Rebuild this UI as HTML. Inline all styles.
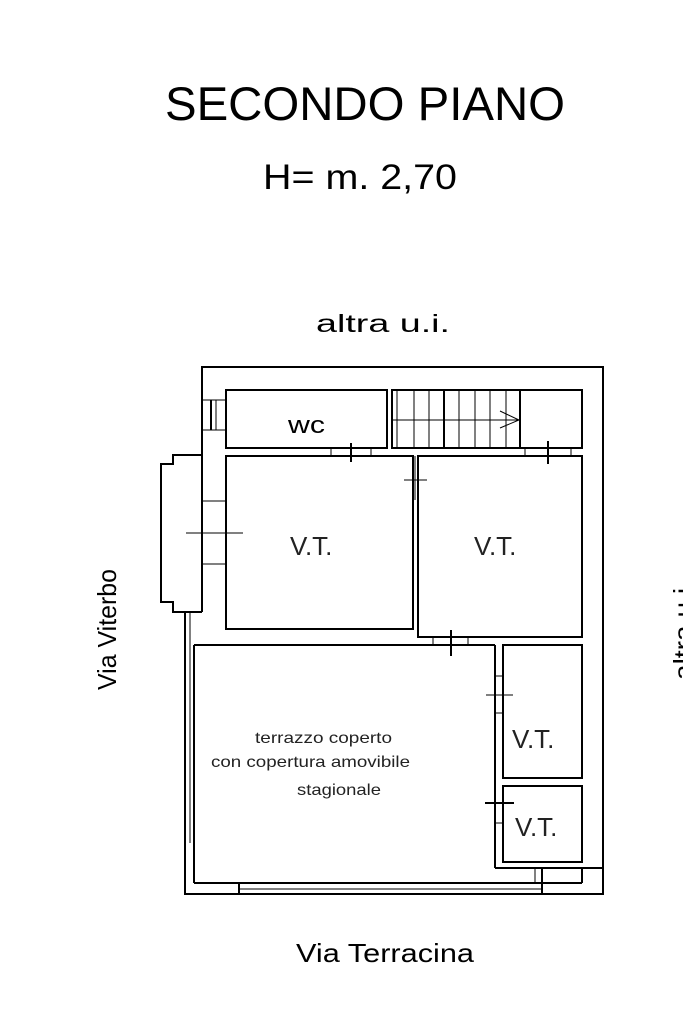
<!DOCTYPE html>
<html><head><style>html,body{margin:0;padding:0;background:#fff;}svg{display:block}</style></head>
<body>
<svg width="683" height="1023" viewBox="0 0 683 1023" xmlns="http://www.w3.org/2000/svg" font-family="Liberation Sans, Arial, sans-serif">
<rect width="683" height="1023" fill="#fff"/>
<text x="165" y="120" font-size="47" textLength="400" lengthAdjust="spacingAndGlyphs">SECONDO PIANO</text>
<text x="263" y="189" font-size="35" textLength="194" lengthAdjust="spacingAndGlyphs">H= m. 2,70</text>
<text x="316" y="332" font-size="25" textLength="134" lengthAdjust="spacingAndGlyphs">altra u.i.</text>
<text x="296" y="962" font-size="26" textLength="178" lengthAdjust="spacingAndGlyphs">Via Terracina</text>
<text transform="translate(116,690) rotate(-90)" font-size="26" textLength="121" lengthAdjust="spacingAndGlyphs">Via Viterbo</text>
<text transform="translate(692,680) rotate(-90)" font-size="26" textLength="100" lengthAdjust="spacingAndGlyphs">altra u.i.</text>
<g fill="none" stroke="#000" stroke-width="2">
<polyline points="202,455 202,367 603,367 603,894 185,894 185,612"/>
<polyline points="202,612 202,455"/>
<polyline points="202,455 173,455 173,464 161,464 161,602 173,602 173,612 202,612"/>
<line x1="190" y1="612" x2="190" y2="843" stroke-width="1"/>
<line x1="194" y1="645" x2="194" y2="883"/>
<rect x="226" y="390" width="161" height="58"/>
<rect x="392" y="390" width="190" height="58"/>
<line x1="444" y1="390" x2="444" y2="448"/>
<line x1="520" y1="390" x2="520" y2="448"/>
<rect x="226" y="456" width="187" height="173"/>
<rect x="418" y="456" width="164" height="181"/>
<line x1="194" y1="645" x2="495" y2="645"/>
<line x1="495" y1="645" x2="495" y2="868"/>
<line x1="495" y1="868" x2="603" y2="868"/>
<rect x="503" y="645" width="79" height="133"/>
<rect x="503" y="786" width="79" height="76"/>
<line x1="194" y1="883" x2="582" y2="883"/>
<line x1="582" y1="868" x2="582" y2="883"/>
<line x1="239" y1="884" x2="239" y2="894"/>
<line x1="542" y1="868" x2="542" y2="894"/>
</g>
<g fill="none" stroke="#000" stroke-width="1">
<line x1="397" y1="390" x2="397" y2="448"/><line x1="414" y1="390" x2="414" y2="448"/><line x1="429" y1="390" x2="429" y2="448"/>
<line x1="459" y1="390" x2="459" y2="448"/><line x1="475" y1="390" x2="475" y2="448"/><line x1="490" y1="390" x2="490" y2="448"/><line x1="506" y1="390" x2="506" y2="448"/>
<line x1="392" y1="420" x2="520" y2="420"/>
<polyline points="500,411 519,420 500,428"/>
<line x1="202" y1="400" x2="226" y2="400"/><line x1="202" y1="430" x2="226" y2="430"/>
<line x1="211" y1="400" x2="211" y2="430" stroke-width="2"/><line x1="216" y1="400" x2="216" y2="430"/>
<line x1="202" y1="501" x2="226" y2="501"/><line x1="202" y1="564" x2="226" y2="564"/>
<line x1="186" y1="533" x2="243" y2="533"/>
<line x1="331" y1="448" x2="331" y2="456"/><line x1="371" y1="448" x2="371" y2="456"/><line x1="351" y1="443" x2="351" y2="462" stroke-width="2"/>
<line x1="525" y1="448" x2="525" y2="456"/><line x1="571" y1="448" x2="571" y2="456"/><line x1="548" y1="441" x2="548" y2="464" stroke-width="2"/>
<line x1="415" y1="456" x2="415" y2="500"/><line x1="404" y1="480" x2="427" y2="480"/>
<line x1="433" y1="637" x2="433" y2="645"/><line x1="468" y1="637" x2="468" y2="645"/><line x1="451" y1="630" x2="451" y2="656" stroke-width="2"/>
<line x1="495" y1="676" x2="503" y2="676"/><line x1="495" y1="713" x2="503" y2="713"/><line x1="486" y1="695" x2="513" y2="695"/>
<line x1="495" y1="823" x2="503" y2="823"/><line x1="485" y1="803" x2="514" y2="803" stroke-width="2"/>
<line x1="239" y1="889" x2="542" y2="889"/>
<line x1="535" y1="868" x2="535" y2="883"/>
</g>
<text x="288" y="433" font-size="24" textLength="37" lengthAdjust="spacingAndGlyphs">wc</text>
<text x="290" y="555" font-size="26" fill="#222">V.T.</text>
<text x="474" y="555" font-size="26" fill="#222">V.T.</text>
<text x="512" y="748" font-size="26" fill="#222">V.T.</text>
<text x="515" y="836" font-size="26" fill="#222">V.T.</text>
<text x="255" y="743" font-size="16" fill="#222" textLength="137" lengthAdjust="spacingAndGlyphs">terrazzo coperto</text>
<text x="211" y="767" font-size="16" fill="#222" textLength="199" lengthAdjust="spacingAndGlyphs">con copertura amovibile</text>
<text x="297" y="795" font-size="16" fill="#222" textLength="84" lengthAdjust="spacingAndGlyphs">stagionale</text>
</svg>
</body></html>
